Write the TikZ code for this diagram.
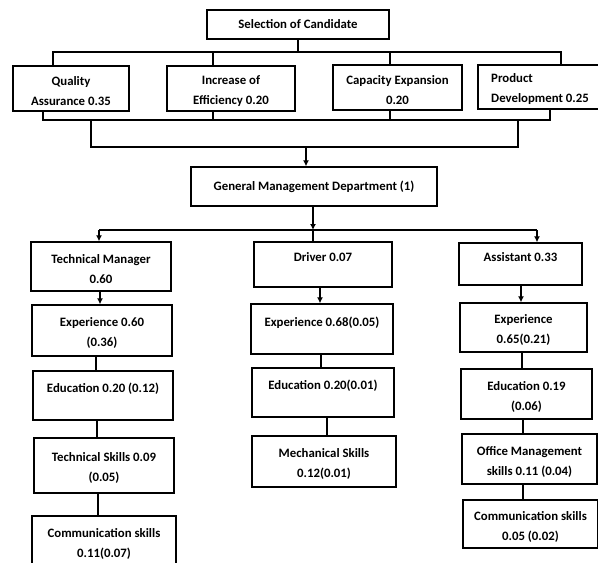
\documentclass[tikz,border=0pt]{standalone}
\usepackage{fontspec}
\setmainfont{Carlito}
\usetikzlibrary{arrows.meta}
\newcommand\twoln[2]{\rule{0pt}{14pt}#1\\#2}
\tikzset{
  box/.style={draw, line width=1.4pt, align=center, inner sep=0pt,
    font=\bfseries\fontsize{12.8}{20}\selectfont},
  sz/.style 2 args={minimum width=#1pt, minimum height=#2pt},
}
\begin{document}
\begin{tikzpicture}[x=1pt,y=-1pt,>={Latex[length=6pt,width=6pt]},line width=1.4pt]
\useasboundingbox (0,0) rectangle (598,563);
% goal and criteria
\node[box,sz={182}{29}] (sel) at (298,24.5) {Selection of Candidate};
\node[box,sz={116}{45}] (qa) at (71,88.5) {\twoln{Quality}{Assurance 0.35}};
\node[box,sz={128}{45}] (ie) at (231,88.5) {\twoln{Increase of}{Efficiency 0.20}};
\node[box,sz={129}{45}] (ce) at (397.5,87.5) {\twoln{Capacity Expansion}{0.20}};
\node[box,sz={124}{44},align=left] (pd) at (540,87) {\twoln{Product}{Development 0.25}};
\node[box,sz={246}{39}] (gmd) at (314,186.5) {General Management Department (1)};
% technical manager
\node[box,sz={140}{49}] (tm) at (101,266.5) {\twoln{Technical Manager}{0.60}};
\node[box,sz={140}{51}] (te) at (102,330.5) {\twoln{Experience 0.60}{(0.36)}};
\node[box,sz={140}{49}] (ted) at (103,395.5) {\twoln{Education 0.20 (0.12)}{\mbox{}}};
\node[box,sz={140}{55}] (tts) at (104,465.5) {\twoln{Technical Skills 0.09}{(0.05)}};
\node[box,sz={144}{51}] (tcs) at (104,541.5) {\twoln{Communication skills}{0.11(0.07)}};
% driver
\node[box,sz={138}{45}] (dr) at (323,264.5) {\twoln{Driver 0.07}{\mbox{}}};
\node[box,sz={142}{50}] (de) at (322,329) {\twoln{Experience 0.68(0.05)}{\mbox{}}};
\node[box,sz={142}{49}] (ded) at (323,392.5) {\twoln{Education 0.20(0.01)}{\mbox{}}};
\node[box,sz={144}{51}] (dm) at (324,461.5) {\twoln{Mechanical Skills}{0.12(0.01)}};
% assistant
\node[box,sz={123}{42}] (as) at (520.5,264) {\twoln{Assistant 0.33}{\mbox{}}};
\node[box,sz={127}{49}] (ae) at (523.5,327.5) {\twoln{Experience}{0.65(0.21)}};
\node[box,sz={131}{50}] (aed) at (526.5,394) {\twoln{Education 0.19}{(0.06)}};
\node[box,sz={135}{50}] (ao) at (529.5,459) {\twoln{Office Management}{skills 0.11 (0.04)}};
\node[box,sz={135}{48}] (ac) at (530.5,524) {\twoln{Communication skills}{0.05 (0.02)}};

% brackets on top
\coordinate (b1) at (sel.south |- 0,52);
\coordinate (tl) at (53,52);
\coordinate (tr) at (561,52);
\draw (sel) -- (b1);
\draw (qa.north -| tl) -- (tl) -- (tr) -- (pd.north -| tr);
\draw (ie.north -| 213,0) |- (b1);
\draw (ce.north -| 390,0) |- (b1);
\coordinate (ll) at (43,120);
\coordinate (lr) at (550,120);
\draw (qa.south -| ll) -- (ll) -- (lr) -- (pd.south -| lr);
\draw (ie.south -| 213,0) -- (213,120);
\draw (ce.south -| 390,0) -- (390,120);
\coordinate (wl) at (91,147);
\coordinate (wr) at (518,147);
\draw (wl |- ll) -- (wl) -- (wr) -- (wr |- lr);
\draw[->] (wl -| 306,0) -- (gmd.north -| 306,0);

% department to positions
\coordinate (hl) at (99,230);
\coordinate (hr) at (537,230);
\draw[->] (gmd.south -| 313,0) -- (hl -| 313,0);
\draw (hl) -- (hr);
\draw[->] (hl) -- (tm.north -| hl);
\draw (dr.north -| 313,0) -- (hl -| 313,0);
\draw[->] (hr) -- (as.north -| hr);

% sub criteria
\draw[->] (tm.south -| 100,0) -- (te.north -| 100,0);
\draw (te.south -| 96,0) -- (ted.north -| 96,0);
\draw (ted.south -| 97,0) -- (tts.north -| 97,0);
\draw (tts.south -| 98,0) -- (tcs.north -| 98,0);
\draw[->] (dr.south -| 320,0) -- (de.north -| 320,0);
\draw (de.south -| 321,0) -- (ded.north -| 321,0);
\draw (ded.south -| 327,0) -- (dm.north -| 327,0);
\draw[->] (as.south -| 521,0) -- (ae.north -| 521,0);
\draw (ae.south -| 522,0) -- (aed.north -| 522,0);
\draw (aed.south -| 523,0) -- (ao.north -| 523,0);
\draw (ao.south -| 523,0) -- (ac.north -| 523,0);
\end{tikzpicture}
\end{document}
